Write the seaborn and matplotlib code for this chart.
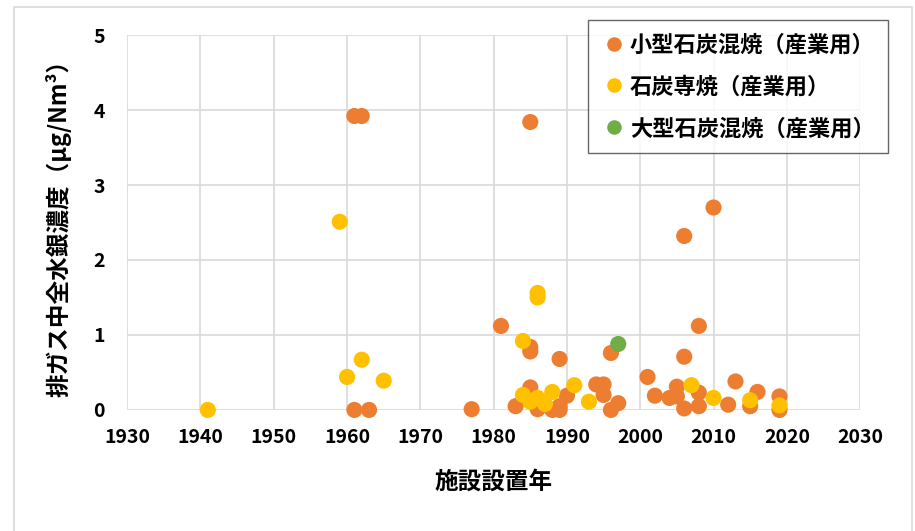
import pandas as pd
import matplotlib
matplotlib.use('Agg')
import matplotlib.pyplot as plt
import seaborn as sns

# データ
small_years = [1961, 1962, 1985, 2006, 2010, 1981, 1977, 1985, 1985, 1989, 1996,
               2001, 2002, 1985, 1983, 1986, 1990, 1989, 1988, 1989, 1994, 1995,
               1995, 1997, 1996, 1961, 1963, 2008, 2006, 2004, 2005, 2005, 2008,
               2006, 2008, 2012, 2013, 2016, 2015, 2019, 2019]
small_vals = [3.92, 3.92, 3.84, 2.32, 2.70, 1.12, 0.01, 0.84, 0.78, 0.68, 0.76,
              0.44, 0.19, 0.30, 0.05, 0.01, 0.19, 0.05, 0.0, 0.0, 0.34, 0.34,
              0.20, 0.09, 0.0, 0.0, 0.0, 1.12, 0.71, 0.16, 0.31, 0.18, 0.23,
              0.02, 0.05, 0.07, 0.38, 0.24, 0.05, 0.18, 0.0]

coal_years = [1941, 1959, 1960, 1962, 1965, 1984, 1986, 1986, 1984, 1985, 1986,
              1987, 1988, 1991, 1993, 2007, 2010, 2015, 2019]
coal_vals = [0.0, 2.51, 0.44, 0.67, 0.39, 0.92, 1.56, 1.50, 0.20, 0.11, 0.16,
             0.08, 0.24, 0.33, 0.11, 0.33, 0.16, 0.13, 0.06]

large_years = [1997]
large_vals = [0.88]

series = ['小型石炭混焼（産業用）', '石炭専焼（産業用）', '大型石炭混焼（産業用）']
colors = ['#ED7D31', '#FFC000', '#70AD47']

df = pd.concat([
    pd.DataFrame({'year': small_years, 'val': small_vals, 'type': series[0]}),
    pd.DataFrame({'year': coal_years, 'val': coal_vals, 'type': series[1]}),
    pd.DataFrame({'year': large_years, 'val': large_vals, 'type': series[2]}),
], ignore_index=True)

sns.set_style('white')
plt.rcParams['font.family'] = ['Noto Sans CJK JP', 'DejaVu Sans']
plt.rcParams['text.color'] = 'black'
plt.rcParams['xtick.color'] = 'black'
plt.rcParams['ytick.color'] = 'black'
plt.rcParams['axes.labelcolor'] = 'black'

fig = plt.figure(figsize=(9.15, 5.31), dpi=100)
ax = fig.add_axes([0.139, 0.228, 0.801, 0.706])

sns.scatterplot(data=df, x='year', y='val', hue='type', hue_order=series,
                palette=colors, s=135, linewidth=0, ax=ax, zorder=3, clip_on=False)

ax.set_xlim(1930, 2030)
ax.set_ylim(0, 5)
ax.set_xticks(range(1930, 2031, 10))
ax.set_yticks(range(0, 6))
ax.grid(True, color='#d9d9d9', linewidth=1.2)
ax.set_axisbelow(True)
for sp in ax.spines.values():
    sp.set_visible(False)
ax.tick_params(axis='x', length=0, labelsize=14, pad=13)
ax.tick_params(axis='y', length=0, labelsize=14, pad=16)
for lab in ax.get_xticklabels() + ax.get_yticklabels():
    lab.set_fontweight('bold')

ax.set_xlabel('施設設置年', fontsize=17, fontweight='bold', labelpad=16)
ax.set_ylabel('排ガス中全水銀濃度（μg/Nm³）', fontsize=17, fontweight='bold', labelpad=16)

leg = ax.legend(loc='upper right', bbox_to_anchor=(1.038, 1.04), fontsize=16,
                frameon=True, fancybox=False, markerscale=0.9, handletextpad=0.1,
                borderpad=0.6, labelspacing=0.85, handlelength=1.2, borderaxespad=0)
leg.get_frame().set_edgecolor('#404040')
leg.get_frame().set_linewidth(1.0)
for t in leg.get_texts():
    t.set_fontweight('bold')

# 外枠
fig.patches.append(plt.Rectangle((0.015, -0.05), 0.982, 1.037, transform=fig.transFigure,
                                 fill=False, edgecolor='#d9d9d9', linewidth=1.2))

fig.savefig('out.png', dpi=100)
